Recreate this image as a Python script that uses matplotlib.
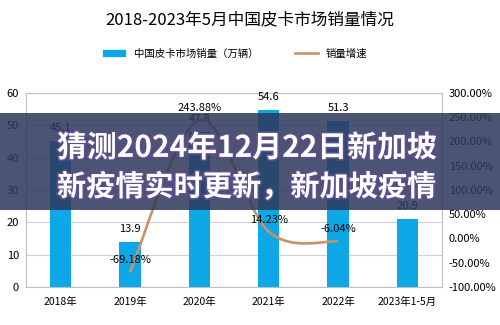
import matplotlib
matplotlib.use('Agg')
import numpy as np
import matplotlib.pyplot as plt
from matplotlib.path import Path
from matplotlib.patches import PathPatch, Rectangle
from matplotlib.lines import Line2D
from matplotlib.patches import Patch
import matplotlib.patheffects as pe

plt.rcParams['font.family'] = ['Noto Sans CJK SC', 'DejaVu Sans']

years = ['2018年', '2019年', '2020年', '2021年', '2022年', '2023年1-5月']
sales = [45.1, 13.9, 47.8, 54.6, 51.3, 20.9]          # 万辆
growth_idx = [1, 2, 3, 4]
growth = [-69.18, 243.88, 14.23, -6.04]               # %

bar_color = '#0FA8E6'
line_color = '#C9926A'

fig = plt.figure(figsize=(5, 3.25), dpi=100)
ax = fig.add_axes([0.052, 0.117, 0.832, 0.597])
ax2 = ax.twinx()

x = np.arange(len(years))
ax.bar(x, sales, width=0.31, color=bar_color, zorder=3)
ax.set_xlim(-0.5, len(years) - 0.5)
ax.set_ylim(0, 60)
ax.set_yticks(range(0, 61, 10))
ax.set_xticks(x)
ax.set_xticklabels(years, fontsize=7.5)
ax.tick_params(axis='y', labelsize=8, length=0, pad=5)
ax.tick_params(axis='x', length=0, pad=7)
ax.grid(axis='y', color='#D0D0D0', linewidth=0.8, zorder=0)
for sp in ax.spines.values():
    sp.set_color('#BFBFBF')
    sp.set_linewidth(0.8)

for xi, v in zip(x, sales):
    ax.annotate(f'{v:.1f}', (xi, v), xytext=(0, 6), textcoords='offset points',
                ha='center', va='bottom', fontsize=8, zorder=5)

# growth rate on the right axis, smoothed with cubic bezier segments
ax2.set_ylim(-100, 300)
ax2.set_yticks(range(-100, 301, 50))
ax2.set_yticklabels([f'{t:.2f}%' for t in range(-100, 301, 50)])
ax2.tick_params(axis='y', labelsize=8, length=0, pad=5)
for sp in ax2.spines.values():
    sp.set_visible(False)

pts = np.column_stack([growth_idx, growth]).astype(float)
verts = [pts[0]]
codes = [Path.MOVETO]
for i in range(len(pts) - 1):
    p0 = pts[i - 1] if i > 0 else pts[i]
    p1, p2 = pts[i], pts[i + 1]
    p3 = pts[i + 2] if i + 2 < len(pts) else pts[i + 1]
    verts += [p1 + (p2 - p0) / 6, p2 - (p3 - p1) / 6, p2]
    codes += [Path.CURVE4] * 3
ax2.add_patch(PathPatch(Path(verts, codes), fill=False, edgecolor=line_color,
                        linewidth=1.9, zorder=4))
for xi, g in zip(growth_idx, growth):
    ax2.annotate(f'{g:.2f}%', (xi, g), xytext=(0, 5), textcoords='offset points',
                 ha='center', va='bottom', fontsize=8, zorder=5)

fig.text(0.5, 0.938, '2018-2023年5月中国皮卡市场销量情况', ha='center', va='center',
         fontsize=12)
handles = [Patch(color=bar_color), Line2D([0], [0], color=line_color, linewidth=1.9)]
fig.legend(handles, ['中国皮卡市场销量（万辆）', '销量增速'], loc='center',
           bbox_to_anchor=(0.47, 0.835), ncol=2, frameon=False, fontsize=7.5,
           handlelength=2.2, handleheight=0.5, columnspacing=3.5)

# headline banner across the chart
fig.patches.append(Rectangle((0, 1 - 210 / 325), 1, 97 / 325, transform=fig.transFigure,
                             facecolor='#2E385C', alpha=0.86, zorder=10))
fx = [pe.withStroke(linewidth=2.5, foreground='#5B4E8C')]
fig.text(0.114, 0.545, '猜测2024年12月22日新加坡', ha='left', va='center', fontsize=21.5,
         fontweight='bold', color='white', zorder=11, path_effects=fx)
fig.text(0.114, 0.425, '新疫情实时更新，新加坡疫情', ha='left', va='center', fontsize=21,
         fontweight='bold', color='white', zorder=11, path_effects=fx)

fig.savefig('out.png', dpi=100)
